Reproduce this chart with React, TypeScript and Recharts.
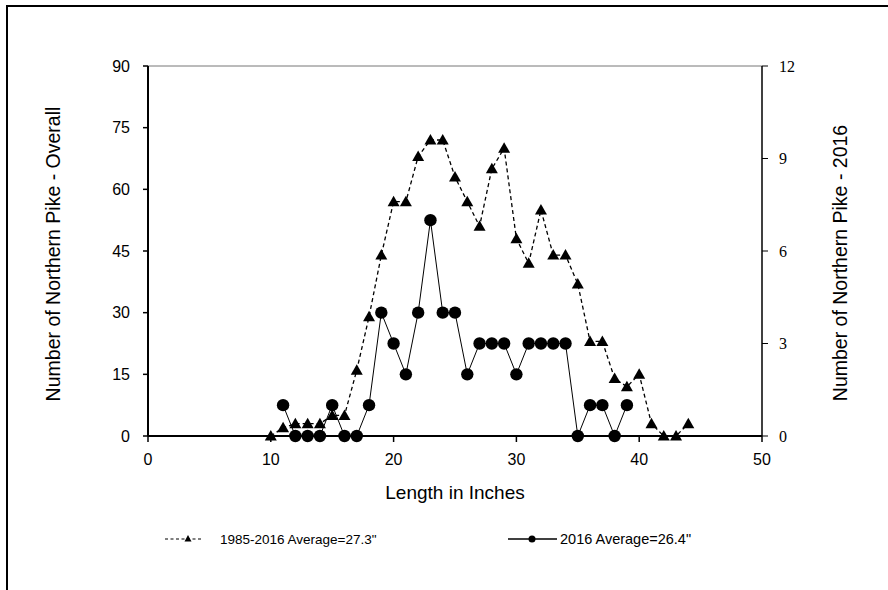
import {
  ComposedChart,
  Line,
  ReferenceLine,
  XAxis,
  YAxis,
} from 'recharts';

// lengths in inches
const lengthsOverall = [10, 11, 12, 13, 14, 15, 16, 17, 18, 19, 20, 21, 22, 23, 24, 25, 26, 27, 28, 29, 30, 31, 32, 33, 34, 35, 36, 37, 38, 39, 40, 41, 42, 43, 44];
const countsOverall = [0, 2, 3, 3, 3, 5, 5, 16, 29, 44, 57, 57, 68, 72, 72, 63, 57, 51, 65, 70, 48, 42, 55, 44, 44, 37, 23, 23, 14, 12, 15, 3, 0, 0, 3];

const lengths2016 = [11, 12, 13, 14, 15, 16, 17, 18, 19, 20, 21, 22, 23, 24, 25, 26, 27, 28, 29, 30, 31, 32, 33, 34, 35, 36, 37, 38, 39];
const counts2016 = [1, 0, 0, 0, 1, 0, 0, 1, 4, 3, 2, 4, 7, 4, 4, 2, 3, 3, 3, 2, 3, 3, 3, 3, 0, 1, 1, 0, 1];

const xTicks = [0, 10, 20, 30, 40, 50];
const leftTicks = [0, 15, 30, 45, 60, 75, 90];
const rightTicks = [0, 3, 6, 9, 12];

const overallLabel = '1985-2016 Average=27.3"';
const label2016 = '2016 Average=26.4"';

const overallData = lengthsOverall.map((len, i) => ({ len, overall: countsOverall[i] }));
const data2016 = lengths2016.map((len, i) => ({ len, y2016: counts2016[i] }));

const SANS = '"Liberation Sans", Arial, sans-serif';
const SERIF = '"Liberation Serif", "Times New Roman", serif';

function Triangle(props: Record<string, unknown>) {
  const { cx, cy } = props as { cx: number; cy: number };
  if (cx == null || cy == null) return null;
  const s = 6;
  return (
    <polygon
      points={`${cx},${cy - s} ${cx - s},${cy + s * 0.75} ${cx + s},${cy + s * 0.75}`}
      fill="#000"
    />
  );
}

function Dot(props: Record<string, unknown>) {
  const { cx, cy } = props as { cx: number; cy: number };
  if (cx == null || cy == null) return null;
  return <circle cx={cx} cy={cy} r={6.2} fill="#000" />;
}

function VerticalTitle({ viewBox, text, x, shift = 0 }: { viewBox?: { y: number; height: number }; text: string; x: number; shift?: number }) {
  if (!viewBox) return null;
  const cy = viewBox.y + viewBox.height / 2 + shift;
  return (
    <text
      x={x}
      y={cy}
      transform={`rotate(-90 ${x} ${cy})`}
      textAnchor="middle"
      dominantBaseline="central"
      fontFamily={SANS}
      fontSize={19.5}
      fill="#000"
    >
      {text}
    </text>
  );
}

function ChartLegend() {
  return (
    <svg width={888} height={24} style={{ display: 'block' }}>
      <line x1={165} x2={202} y1={12} y2={12} stroke="#000" strokeWidth={1.2} strokeDasharray="3 2.5" />
      <polygon points="188,8 184.5,14.5 191.5,14.5" fill="#000" />
      <text x={220} y={12} dominantBaseline="central" fontFamily={SANS} fontSize={13.5} fill="#000">
        {overallLabel}
      </text>
      <line x1={508} x2={557} y1={12} y2={12} stroke="#000" strokeWidth={1.5} />
      <circle cx={532} cy={12} r={3.5} fill="#000" />
      <text x={560} y={12} dominantBaseline="central" fontFamily={SANS} fontSize={14.5} fill="#000">
        {label2016}
      </text>
    </svg>
  );
}

export default function App() {
  return (
    <div style={{ position: 'absolute', left: 0, top: 0, width: 888, height: 590, background: '#fff' }}>
      <div
        style={{
          position: 'absolute',
          left: 6,
          top: 5,
          width: 900,
          height: 600,
          borderLeft: '2px solid #000',
          borderTop: '2px solid #000',
        }}
      />
      <div style={{ position: 'absolute', left: 0, top: 0 }}>
        <ComposedChart
          width={888}
          height={590}
          margin={{ top: 66, right: 66, bottom: 124, left: 88 }}
        >
          <XAxis
            type="number"
            dataKey="len"
            domain={[0, 50]}
            ticks={xTicks}
            allowDataOverflow
            height={30}
            axisLine={{ stroke: '#000', strokeWidth: 2 }}
            tickLine={{ stroke: '#000', strokeWidth: 1.5 }}
            tickSize={6}
            tickMargin={12}
            tick={{ fontFamily: SANS, fontSize: 16, fill: '#000' }}
            label={{
              value: 'Length in Inches',
              position: 'bottom',
              offset: 20,
              style: { fontFamily: SANS, fontSize: 19, fill: '#000' },
            }}
          />
          <YAxis
            yAxisId="left"
            orientation="left"
            domain={[0, 90]}
            ticks={leftTicks}
            width={60}
            axisLine={{ stroke: '#000', strokeWidth: 2 }}
            tickLine={{ stroke: '#000', strokeWidth: 1.5 }}
            tickSize={5}
            tickMargin={13}
            tick={{ fontFamily: SANS, fontSize: 16, fill: '#000' }}
            label={{ content: (p: any) => <VerticalTitle viewBox={p.viewBox} text="Number of Northern Pike - Overall" x={53} shift={3} /> }}
          />
          <YAxis
            yAxisId="right"
            orientation="right"
            domain={[0, 12]}
            ticks={rightTicks}
            width={60}
            axisLine={{ stroke: '#000', strokeWidth: 1.5 }}
            tickLine={{ stroke: '#000', strokeWidth: 1 }}
            tickSize={6}
            tickMargin={11}
            tick={{ fontFamily: SERIF, fontSize: 16, fill: '#000' }}
            label={{ content: (p: any) => <VerticalTitle viewBox={p.viewBox} text="Number of Northern Pike - 2016" x={840} shift={12} /> }}
          />
          <ReferenceLine yAxisId="left" y={90} stroke="#777" strokeWidth={1} />
          <Line
            yAxisId="left"
            data={overallData}
            dataKey="overall"
            type="linear"
            stroke="#000"
            strokeWidth={1.3}
            strokeDasharray="4 3"
            dot={<Triangle />}
            activeDot={false}
            isAnimationActive={false}
          />
          <Line
            yAxisId="right"
            data={data2016}
            dataKey="y2016"
            type="linear"
            stroke="#000"
            strokeWidth={1}
            dot={<Dot />}
            activeDot={false}
            isAnimationActive={false}
          />
        </ComposedChart>
      </div>
      <div style={{ position: 'absolute', left: 0, top: 527, width: 888 }}>
        <ChartLegend />
      </div>
    </div>
  );
}
